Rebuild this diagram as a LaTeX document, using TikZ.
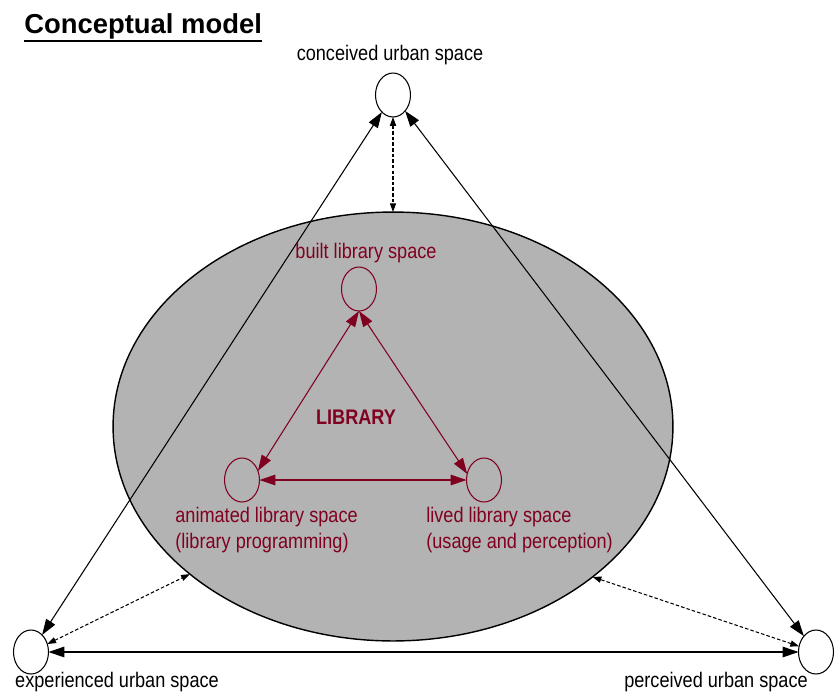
\documentclass[tikz,border=0pt]{standalone}
\usepackage{fontspec}
\setmainfont{Liberation Sans}
\newfontfamily\narrowfont[FakeStretch=0.86]{Liberation Sans}
\usetikzlibrary{shapes, calc, positioning, arrows.meta}

\definecolor{libred}{RGB}{128,0,32}
\definecolor{libgray}{RGB}{179,179,179}

\tikzset{
    space/.style={draw, ellipse, inner sep=0pt, outer sep=0pt, minimum width=0.7cm, minimum height=0.88cm, line width=0.6pt},
    libspace/.style={space, draw=libred},
    urbanlabel/.style={inner sep=0pt, font=\narrowfont\fontsize{12}{15.3}\selectfont},
    liblabel/.style={urbanlabel, text=libred, align=left},
    solidarrow/.style={line width=0.6pt, {Triangle[length=9pt,width=6pt]}-{Triangle[length=9pt,width=6pt]}},
    dasharrow/.style={line width=0.6pt, dash pattern=on 2pt off 1.2pt, {Triangle[length=5pt,width=3.5pt]}-{Triangle[length=5pt,width=3.5pt]}},
    redarrow/.style={libred, line width=0.6pt, {Triangle[length=9pt,width=6pt]}-{Triangle[length=9pt,width=6pt]}}
}

\begin{document}
\begin{tikzpicture}[x=0.02cm, y=-0.02cm]
    \useasboundingbox (0,0) rectangle (836,694);
    % title
    \node(title)[anchor=base west, inner sep=0pt, font=\bfseries\fontsize{15.6}{19}\selectfont] at (24,33) {Conceptual model};
    \draw[line width=1.1pt] ([yshift=-4.8pt]title.base west) -- ([yshift=-4.8pt]title.base east);

    % library ellipse
    \node(library)[draw, ellipse, fill=libgray, line width=0.8pt, inner sep=0pt, outer sep=0pt, minimum width=11.2cm, minimum height=8.58cm] at (393,426.5) {};

    % urban spaces
    \node(conceived)[space] at (393,95) {};
    \node(experienced)[space] at (31,652) {};
    \node(perceived)[space] at (816,652) {};
    \node(conceived_lbl)[urbanlabel] at (390,55) {conceived urban space};
    \node(experienced_lbl)[urbanlabel] at (117,682) {experienced urban space};
    \node(perceived_lbl)[urbanlabel] at (716,682) {perceived urban space};

    \draw[solidarrow] (conceived) -- (experienced);
    \draw[solidarrow] (conceived) -- (perceived);
    \draw[solidarrow] (experienced.east) -- (perceived.west);
    \draw[dasharrow] (conceived.south) -- (library.north);
    \draw[dasharrow] (experienced) -- (library.216.8);
    \draw[dasharrow] (perceived) -- (library.-37);

    % library spaces
    \node(built)[libspace] at (359,289) {};
    \node(animated)[libspace] at (242,480) {};
    \node(lived)[libspace] at (484,480) {};
    \node(built_lbl)[liblabel] at (366,253) {built library space};
    \node(animated_lbl)[liblabel, anchor=west] at (175,530) {animated library space\\(library programming)};
    \node(lived_lbl)[liblabel, anchor=west] at (426,530) {lived library space\\(usage and perception)};
    \node(library_lbl)[inner sep=0pt, text=libred, font=\narrowfont\bfseries\fontsize{12}{14}\selectfont] at (356,417) {LIBRARY};

    \draw[redarrow] (built.south) -- (animated.30);
    \draw[redarrow] (built.south) -- (lived.160);
    \draw[redarrow] (animated.east) -- (lived.west);
\end{tikzpicture}
\end{document}
